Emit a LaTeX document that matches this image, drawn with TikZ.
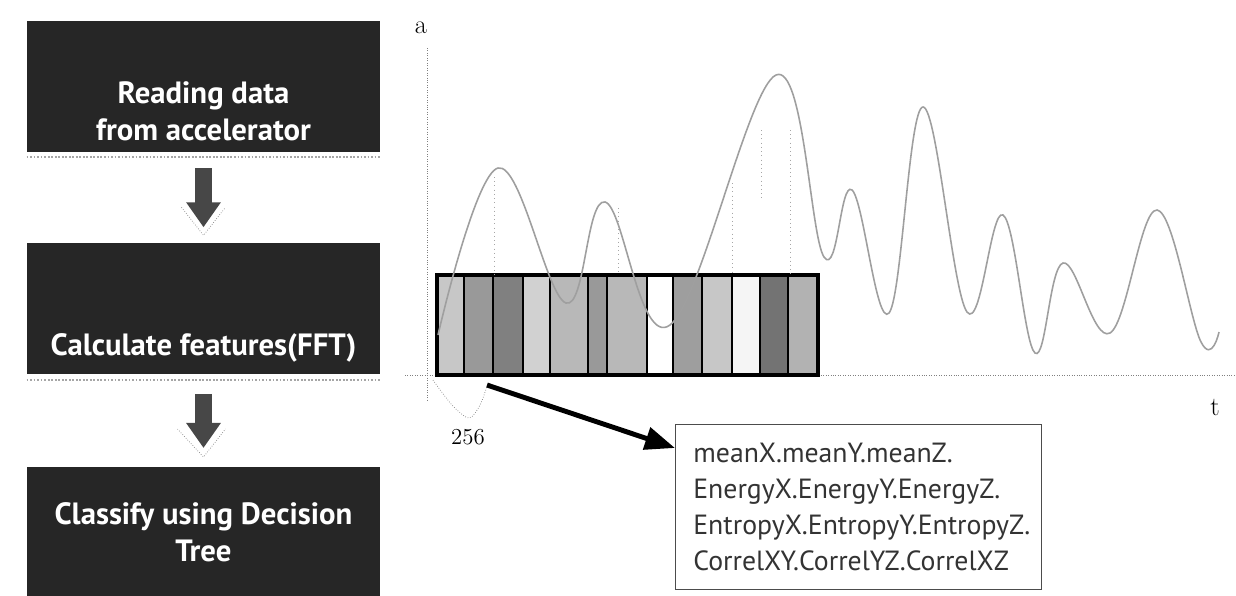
\documentclass[tikz,border=0pt]{standalone}
\usepackage{fontspec}
\setsansfont{PT Sans}
\usepackage{xcolor}
\usepackage{tikz}
\usetikzlibrary{arrows.meta,positioning}

\begin{document}
\begin{tikzpicture}[x=0.02cm, y=-0.02cm,
  stepbox/.style={draw=none, fill=black!85, minimum width=7.06cm, minimum height=2.62cm, inner sep=0pt},
  steptext/.style={align=center, text=white, font=\sffamily\bfseries\fontsize{17.5}{21}\selectfont},
  blockarr/.style={-{Triangle[width=0.66cm,length=0.5cm]}, line width=0.34cm, draw=black!72},
  chev/.style={gray, densely dotted, thin},
  shadowline/.style={gray!70, densely dotted, line width=1pt},
  axisline/.style={gray, densely dotted, thin},
  axislab/.style={font=\fontsize{15}{18}\selectfont},
  bar/.style={draw=black, line width=1.6pt},
  wave/.style={gray!75, line width=0.9pt},
  peakline/.style={gray!70, dotted, thin},
  featbox/.style={draw=black!70, thin, anchor=north west, minimum width=7.2cm, minimum height=3.3cm, text width=6.6cm, inner xsep=0.36cm, align=left, font=\sffamily\fontsize{15.8}{20.5}\selectfont, text=black!80},
  bigarr/.style={-{Triangle[width=0.45cm,length=0.6cm]}, line width=2.8pt}]
\useasboundingbox (0,0) rectangle (1236,595);

% flow on the left
\node[stepbox] (read) at (203.5,86.5) {};
\node[stepbox, below=1.8cm of read] (calc) {};
\node[stepbox, below=1.86cm of calc, minimum height=2.64cm] (cls) {};
\node[steptext] (readtxt) at ([yshift=-0.49cm]read.center) {Reading data\\from accelerator};
\node[steptext] (calctxt) at ([yshift=-0.8cm]calc.center) {Calculate features(FFT)};
\node[steptext] (clstxt) at ([yshift=0.02cm]cls.center) {Classify using Decision\\Tree};
\draw[shadowline] ([yshift=-0.1cm]read.south west) -- ([yshift=-0.1cm]read.south east);
\draw[shadowline] ([yshift=-0.12cm]calc.south west) -- ([yshift=-0.12cm]calc.south east);
\draw[blockarr, shorten <=0.32cm, shorten >=0.3cm] (read.south) -- (calc.north);
\draw[blockarr, shorten <=0.4cm, shorten >=0.38cm] (calc.south) -- (cls.north);
\draw[chev] ([shift={(-0.44cm,0.7cm)}]calc.north) -- ([yshift=0.14cm]calc.north) -- ([shift={(0.44cm,0.7cm)}]calc.north);
\draw[chev] ([shift={(-0.52cm,0.76cm)}]cls.north) -- ([yshift=0.2cm]cls.north) -- ([shift={(0.44cm,0.76cm)}]cls.north);

% signal plot
\coordinate (o) at (427,375);
\node[axislab] (alab) at (421,28) {a};
\node[axislab] (tlab) at (1215,407) {t};
\draw[axisline] (427,48) -- (o) -- (427,402);
\draw[axisline] (405,375) -- (o) -- (1236,375);

\foreach \xa/\xb/\sh in {437/464/22, 464/493/40, 493/523/50, 523/550/18, 550/588/28,
  588/607/40, 607/647/28, 647/673/0, 673/702/38, 702/732/22, 732/760/4, 760/788/55, 788/818/30}
  \draw[bar, fill=black!\sh] (\xa,275) rectangle (\xb,375);
\draw[black, line width=2.4pt] (437,275) rectangle (818,375);

\foreach \px/\pa/\pb in {494/177/275, 618/208/275, 732/183/275, 761/130/200, 790/130/275}
  \draw[peakline] (\px,\pa) -- (\px,\pb);

\draw[wave] plot[smooth, tension=0.65] coordinates {(438,335) (498,168) (566,303) (605,202)
  (670,325) (776,75) (824,257) (852,190) (889,313) (923,107) (967,312) (1003,215)
  (1035,353) (1063,263) (1110,333) (1157,210) (1201,342) (1219,332)};

% one window of 256 samples
\draw[axisline] plot[smooth] coordinates {(433,380) (452,405) (469,418) (480,405) (487,386)};
\node[font=\fontsize{13}{16}\selectfont] (n256) at (468,437) {256};
\coordinate (win) at (487,385);

% features of the window
\node[featbox] (feat) at (675,424) {meanX.meanY.meanZ.\\EnergyX.EnergyY.EnergyZ.\\EntropyX.EntropyY.EntropyZ.\\CorrelXY.CorrelYZ.CorrelXZ};
\draw[bigarr] (win) -- ([yshift=-0.48cm]feat.north west);
\end{tikzpicture}
\end{document}
